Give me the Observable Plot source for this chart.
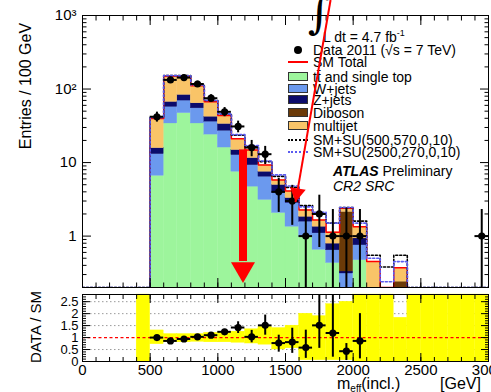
<!DOCTYPE html>
<html><head><meta charset="utf-8">
<script src="https://cdn.jsdelivr.net/npm/d3@7"></script>
<script src="https://cdn.jsdelivr.net/npm/@observablehq/plot@0.6"></script>
<style>
html,body{margin:0;padding:0;background:#fff;overflow:hidden;}
#wrap{position:relative;width:491px;height:392px;overflow:hidden;font-family:"Liberation Sans",Arial,Helvetica,sans-serif;color:#000;}
#main,#ratio{position:absolute;left:0;z-index:2;}
#main{top:0}
#ratio{top:289px}
.ov{position:absolute;white-space:nowrap;z-index:1;}
.row{position:absolute;left:286px;height:12px;line-height:12px;font-size:14px;white-space:nowrap;z-index:1;}
.row .t{position:absolute;left:27px;top:0;}
.sw{position:absolute;left:2px;top:1px;width:20px;height:9px;border:1px solid #333;box-sizing:border-box;}
.ln{position:absolute;left:2px;top:5px;width:20px;height:0;}
.dot{position:absolute;left:8px;top:2px;width:8px;height:8px;border-radius:50%;background:#000;}
.rot{position:absolute;transform:translate(-50%,-50%) rotate(-90deg);white-space:nowrap;z-index:1;}
</style></head>
<body>
<div id="wrap">
  <div class="ov" style="left:308px;top:-12px;font-size:44px;font-family:'DejaVu Serif',serif;line-height:50px;">∫</div>
  <div class="ov" style="left:323px;top:26px;font-size:14px;line-height:14px;">L dt = 4.7 fb<sup style="font-size:9px;vertical-align:6px;">-1</sup></div>

  <div class="row" style="top:44px"><span class="dot"></span><span class="t">Data 2011 (√s = 7 TeV)</span></div>
  <div class="row" style="top:56px"><span class="ln" style="border-top:2px solid #ff0000"></span><span class="t">SM Total</span></div>
  <div class="row" style="top:71px"><span class="sw" style="background:#9df59c"></span><span class="t">tt̄ and single top</span></div>
  <div class="row" style="top:82.5px"><span class="sw" style="background:#6b99ee"></span><span class="t">W+jets</span></div>
  <div class="row" style="top:94px"><span class="sw" style="background:#0b0b6b"></span><span class="t">Z+jets</span></div>
  <div class="row" style="top:107px"><span class="sw" style="background:#6b3a08"></span><span class="t">Diboson</span></div>
  <div class="row" style="top:120px"><span class="sw" style="background:#f9c468"></span><span class="t">multijet</span></div>
  <div class="row" style="top:133.5px"><span class="ln" style="border-top:2px dotted #000"></span><span class="t">SM+SU(500,570,0,10)</span></div>
  <div class="row" style="top:146px"><span class="ln" style="border-top:2px dotted #5b5bf0"></span><span class="t">SM+SU(2500,270,0,10)</span></div>
  <div class="ov" style="left:333px;top:164px;font-size:14px;line-height:14px;"><b><i>ATLAS</i></b> Preliminary</div>
  <div class="ov" style="left:333px;top:179px;font-size:14px;line-height:14px;"><i>CR2 SRC</i></div>

  <div class="rot" style="left:26px;top:86px;font-size:16px;">Entries / 100 GeV</div>
  <div class="rot" style="left:35px;top:327px;font-size:15px;">DATA / SM</div>
  <div class="ov" style="left:337px;top:376px;font-size:16px;line-height:16px;">m<sub style="font-size:10px;vertical-align:-3px;">eff</sub>(incl.)</div>
  <div class="ov" style="left:440px;top:376px;font-size:16px;line-height:16px;">[GeV]</div>
</div>
<script>
const FONT = '"Liberation Sans", Arial, Helvetica, sans-serif';

// ---- bins (lower edges, GeV), width 100 GeV ----
const binLow = [500,600,700,800,900,1000,1100,1200,1300,1400,1500,1600,1700,1800,1900,2000,2100,2200,2300,2400,2500,2600,2700,2800,2900];
const binWidth = 100;

// ---- SM backgrounds (entries / 100 GeV) ----
const ttbar    = [6.6,34,47,34,24,16,7.5,4.7,3.1,2.06,1.34,0.98,0.65,0.43,0.15,0.47,0,0,0,0,0,0,0,0,0];
const wjets    = [6.4,23,22.6,20.6,12,11,5.1,4.5,3.3,1.8,1.47,0.59,0.44,0.21,0.16,0.28,0,0,0,0,0,0,0,0,0];
const zjets    = [2.7,9.8,13.6,9.3,6,6.5,2.2,2.3,1.1,1.1,0.48,0.26,0.25,0.15,0.02,0.18,0,0,0,0,0,0,0,0,0];
const diboson  = [0,0,0,0,0,0,0,0,0,0,0,0,0,0,1.8,0,0,0,0.24,0,0,0,0,0,0];
const multijet = [24,83,65,47,25,10,6.2,3.3,1.75,0.85,0.8,0.43,0.31,0.34,0.26,0.41,0.45,0,0.13,0,0,0,0,0,0];

// ---- SM + signal totals ----
const smSU500  = [41,153,152,115,70,46,23.5,16.5,10.3,6.5,4.6,2.6,2.0,1.5,2.45,1.6,0.55,0.38,0.55,0,0,0,0,0,0];
const smSU2500 = [41,152,151,114,70,46,24,17,10.5,6.8,4.8,2.5,2.1,1.5,2.45,1.5,0.5,0.24,0.45,0,0,0,0,0,0];

// ---- data ----
const data    = [42,133,143,117,75,49,31,16,13,4,3,1,2,1,1,1,0,0,0,0,0,0,0,0,1];
const dataLo  = [35.5,121.5,131,106,66.3,42,25.4,12,9.4,2.1,1.4,0.01,0.7,0.01,0.01,0.01,0,0,0,0,0,0,0,0,0.01];
const dataHi  = [48.5,144.5,155,128,83.7,56,36.6,20,16.6,6.1,4.9,2.6,3.6,2.3,2.4,2.3,0,0,0,0,0,0,0,0,2.3];

// ---- ratio panel (bins 500..2000) ----
const ratio   = [1.0,0.86,0.94,1.03,1.10,1.24,1.42,1.03,1.51,0.77,0.81,0.58,1.51,1.19,0.43,0.86];
const ratioLo = [0.96,0.82,0.90,0.98,1.03,1.14,1.17,0.78,1.10,0.39,0.34,0.13,0.55,0.18,0.04,0.11];
const ratioHi = [1.04,0.90,0.98,1.08,1.17,1.34,1.66,1.30,1.94,1.10,1.39,1.31,2.9,2.9,0.75,2.0];

// ---- SM uncertainty band in ratio (bins 400..2900) ----
const bandLow = [400,500,600,700,800,900,1000,1100,1200,1300,1400,1500,1600,1700,1800,1900,2000,2100,2200,2300,2400,2500,2600,2700,2800,2900];
const bandDn  = [0,0.72,0.8,0.8,0.82,0.8,0.8,0.78,0.75,0.7,0.5,0.55,0.05,0.05,0.05,0.05,0,0,0,0,0,0,0,0,0,0];
const bandUp  = [2.8,1.3,1.15,1.15,1.15,1.2,1.22,1.25,1.35,1.45,1.4,1.5,2.0,1.9,2.4,2.5,2.8,2.8,2.8,1.83,2.8,2.8,2.8,2.8,2.8,2.8];

// ---- annotations (data coordinates) ----
const bigArrow  = [{x: 1186, yTop: 14.8, yBase: 0.45, yTip: 0.23}];
const thinArrow = [{x1: 1833, y1: 1625, x2: 1574, y2: 2.9}];

// tick values
const majorLog = [1,10,100,1000];
const minorLog = [];
[0.1,1,10,100].forEach(d => [2,3,4,5,6,7,8,9].forEach(k => { if (d*k >= 0.2 && d*k <= 1000) minorLog.push(d*k); }));
const xMajor = [0,500,1000,1500,2000,2500,3000];
const xMinor = d3.range(0, 3001, 100);
const rMajor = [0,0.5,1,1.5,2,2.5];
const rMinor = d3.range(0, 2.81, 0.1);

// ---- build tables ----
const layers = [
  {values: ttbar, color: "#9df59c"},
  {values: wjets, color: "#6b99ee"},
  {values: zjets, color: "#0b0b6b"},
  {values: diboson, color: "#6b3a08"},
  {values: multijet, color: "#f9c468"}
];
const stackMarks = layers.map((L, li) => {
  const rows = binLow.map((x, i) => {
    let base = 0;
    for (let j = 0; j < li; j++) base += layers[j].values[i];
    return {x1: x, x2: x + binWidth, y1: Math.max(base, 0.01), y2: base + L.values[i], v: L.values[i]};
  }).filter(r => r.v > 0);
  return Plot.rect(rows, {x1: "x1", x2: "x2", y1: "y1", y2: "y2", fill: L.color, stroke: L.color, strokeWidth: 0.3, clip: true});
});
const smTotal = binLow.map((x, i) => layers.reduce((s, L) => s + L.values[i], 0));
const FLOOR = 0.2;
function steps(vals, from, to) {
  const pts = [];
  binLow.forEach((x, i) => {
    if (x < from || x >= to) return;
    const v = Math.max(vals[i], FLOOR);
    pts.push({x, y: v}, {x: x + binWidth, y: v});
  });
  return pts;
}
const smLine = [{x: 500, y: FLOOR}, ...steps(smTotal, 500, 2400), {x: 2400, y: FLOOR}];
const su1Line = [{x: 0, y: FLOOR}, {x: 500, y: FLOOR}, ...steps(smSU500, 500, 3000), {x: 3000, y: FLOOR}];
const su2Line = [{x: 0, y: FLOOR}, {x: 500, y: FLOOR}, ...steps(smSU2500, 500, 3000), {x: 3000, y: FLOOR}];
const pts = binLow.map((x, i) => ({x1: x, x2: x + binWidth, xc: x + binWidth / 2, v: data[i], lo: dataLo[i], hi: dataHi[i]})).filter(d => d.v > 0);
const rpts = ratio.map((r, i) => ({x1: binLow[i], x2: binLow[i] + binWidth, xc: binLow[i] + binWidth / 2, v: r, lo: ratioLo[i], hi: ratioHi[i]}));
const band = bandLow.map((x, i) => ({x1: x, x2: x + binWidth, y1: bandDn[i], y2: bandUp[i]}));

const blank = () => "";
function frameTicks(yMajor, yMinor, xMaj, xMin, big, small) {
  return [
    Plot.axisY(yMajor, {anchor: "left", tickSize: -big, tickFormat: blank, label: null}),
    Plot.axisY(yMinor, {anchor: "left", tickSize: -small, tickFormat: blank, label: null}),
    Plot.axisY(yMajor, {anchor: "right", tickSize: -big, tickFormat: blank, label: null}),
    Plot.axisY(yMinor, {anchor: "right", tickSize: -small, tickFormat: blank, label: null}),
    Plot.axisX(xMaj, {anchor: "bottom", tickSize: -big, tickFormat: blank, label: null}),
    Plot.axisX(xMin, {anchor: "bottom", tickSize: -small, tickFormat: blank, label: null}),
    Plot.axisX(xMaj, {anchor: "top", tickSize: -big, tickFormat: blank, label: null}),
    Plot.axisX(xMin, {anchor: "top", tickSize: -small, tickFormat: blank, label: null})
  ];
}
const logFmt = d => d === 1 ? "1" : d === 10 ? "10" : d === 100 ? "10²" : "10³";

const main = Plot.plot({
  width: 491, height: 289,
  marginLeft: 82, marginRight: 3, marginTop: 15, marginBottom: 2,
  x: {domain: [0, 3000]},
  y: {type: "log", domain: [0.2, 1000]},
  style: {fontFamily: FONT, fontSize: "15px", background: "transparent", overflow: "visible"},
  marks: [
    ...stackMarks,
    Plot.line(smLine, {x: "x", y: "y", stroke: "#ff0000", strokeWidth: 1.5, clip: true}),
    Plot.line(su1Line, {x: "x", y: "y", stroke: "#000", strokeWidth: 1.6, strokeDasharray: "2,2", clip: true}),
    Plot.line(su2Line, {x: "x", y: "y", stroke: "#5b5bf0", strokeWidth: 1.6, strokeDasharray: "2,2", clip: true}),
    Plot.ruleX(pts, {x: "xc", y1: "lo", y2: "hi", stroke: "#000", strokeWidth: 2, clip: true}),
    Plot.ruleY(pts, {y: "v", x1: "x1", x2: "x2", stroke: "#000", strokeWidth: 2}),
    Plot.dot(pts, {x: "xc", y: "v", r: 3.6, fill: "#000"}),
    Plot.frame({stroke: "#000", strokeWidth: 1}),
    ...frameTicks(majorLog, minorLog, xMajor, xMinor, 9, 4.5),
    Plot.axisY(majorLog, {anchor: "left", tickSize: 0, tickPadding: 6, tickFormat: logFmt, label: null, fontSize: 15}),
    Plot.link(thinArrow, {x1: "x1", y1: "y1", x2: "x2", y2: "y2", stroke: "#ff0000", strokeWidth: 2}),
    Plot.dot(thinArrow, {x: "x2", y: "y2", symbol: "triangle", r: 5.9, rotate: 189.8, dx: 1.6, dy: -9.1, fill: "#ff0000", stroke: "none"}),
    Plot.ruleX(bigArrow, {x: "x", y1: "yTop", y2: "yBase", stroke: "#ff0000", strokeWidth: 8}),
    Plot.dot(bigArrow, {x: "x", y: "yTip", symbol: "triangle", r: 8.9, rotate: 180, dy: -13.9, fill: "#ff0000", stroke: "none"})
  ]
});
main.id = "main";

const ratioPlot = Plot.plot({
  width: 491, height: 103,
  marginLeft: 82, marginRight: 3, marginTop: 5, marginBottom: 31,
  x: {domain: [0, 3000]},
  y: {domain: [0, 2.8]},
  style: {fontFamily: FONT, fontSize: "15px", background: "transparent", overflow: "visible"},
  marks: [
    Plot.ruleY([0.5, 1.5, 2, 2.5], {stroke: "#9a9a9a", strokeDasharray: "1.5,2.5"}),
    Plot.rect(band, {x1: "x1", x2: "x2", y1: "y1", y2: "y2", fill: "#ffff00", stroke: "#ffff00", strokeWidth: 0.3}),
    Plot.ruleY([1], {stroke: "#ff0000", strokeDasharray: "3,2.5", strokeWidth: 1.2}),
    Plot.ruleX(rpts, {x: "xc", y1: "lo", y2: "hi", stroke: "#000", strokeWidth: 2, clip: true}),
    Plot.ruleY(rpts, {y: "v", x1: "x1", x2: "x2", stroke: "#000", strokeWidth: 2}),
    Plot.dot(rpts, {x: "xc", y: "v", r: 3.6, fill: "#000"}),
    Plot.frame({stroke: "#000", strokeWidth: 1}),
    ...frameTicks(rMajor, rMinor, xMajor, xMinor, 8, 4),
    Plot.axisY(rMajor, {anchor: "left", tickSize: 0, tickPadding: 4, tickFormat: d => String(d), label: null, fontSize: 13}),
    Plot.axisX(xMajor, {anchor: "bottom", tickSize: 0, tickPadding: 3, tickFormat: d => String(d), label: null, fontSize: 15})
  ]
});
ratioPlot.id = "ratio";

const wrap = document.getElementById("wrap");
wrap.appendChild(main);
wrap.appendChild(ratioPlot);
</script>
</body></html>
